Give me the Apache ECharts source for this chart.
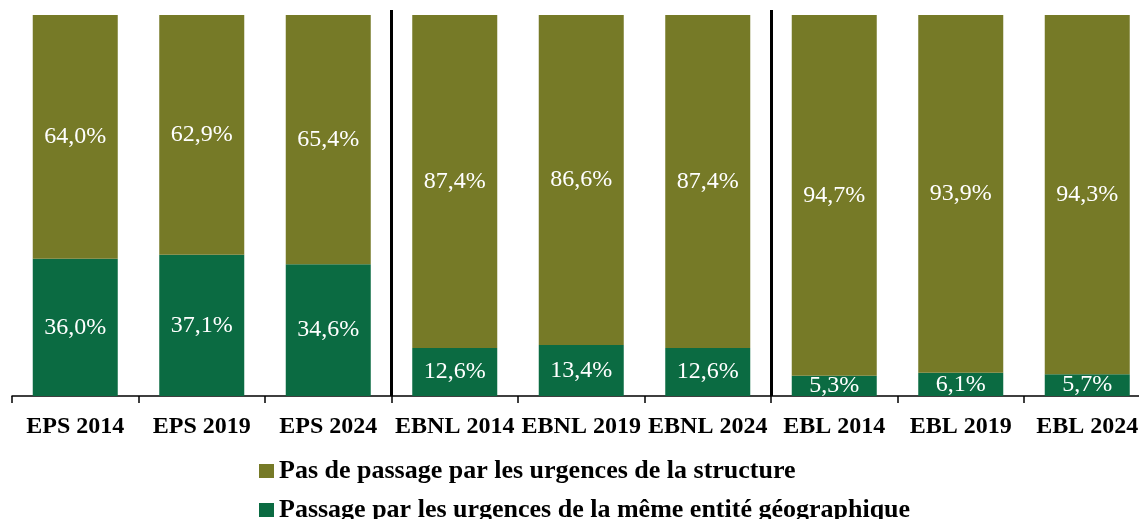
<!DOCTYPE html>
<html>
<head>
<meta charset="utf-8">
<script src="https://cdn.jsdelivr.net/npm/echarts@6/dist/echarts.min.js"></script>
<style>
    html, body { margin: 0; padding: 0; background: #fff; }
    #chart { width: 1139px; height: 519px; }
</style>
</head>
<body>
<div id="chart"></div>
<script>
var categories = ['EPS 2014', 'EPS 2019', 'EPS 2024', 'EBNL 2014', 'EBNL 2019', 'EBNL 2024', 'EBL 2014', 'EBL 2019', 'EBL 2024'];
var memeEntite = [36.0, 37.1, 34.6, 12.6, 13.4, 12.6, 5.3, 6.1, 5.7];
var pasPassage = [64.0, 62.9, 65.4, 87.4, 86.6, 87.4, 94.7, 93.9, 94.3];
var nomMeme = 'Passage par les urgences de la même entité géographique';
var nomPas = 'Pas de passage par les urgences de la structure';

var police = '"Liberation Serif", "DejaVu Serif", serif';

function pct(p) {
    return p.value.toFixed(1).replace('.', ',') + '%';
}

var myChart = echarts.init(document.getElementById('chart'));
var option = {
    animation: false,
    grid: {
        left: 12,
        top: 10,
        right: -11.5,
        height: 386,
        outerBoundsMode: 'none'
    },
    legend: {
        data: [nomPas, nomMeme],
        orient: 'vertical',
        left: 259,
        top: 458,
        height: 120,
        padding: 0,
        itemWidth: 15,
        itemHeight: 14,
        itemGap: 13,
        icon: 'rect',
        textStyle: {
            fontFamily: police,
            fontWeight: 'bold',
            fontSize: 26,
            lineHeight: 26,
            color: '#000'
        }
    },
    xAxis: {
        type: 'category',
        data: categories,
        axisLine: { lineStyle: { color: '#000', width: 1.5 } },
        axisTick: { show: true, length: 7, lineStyle: { color: '#000', width: 1.5 } },
        axisLabel: {
            margin: 19,
            fontFamily: police,
            fontWeight: 'bold',
            fontSize: 24,
            color: '#000',
            interval: 0
        },
        splitLine: {
            show: true,
            interval: function (index) {
                return index === 3 || index === 6;
            },
            lineStyle: { color: '#000', width: 3, type: 'solid' }
        }
    },
    yAxis: {
        type: 'value',
        min: 0,
        max: 101.31,
        show: false,
        splitLine: { show: false }
    },
    series: [
        {
            name: nomMeme,
            type: 'bar',
            stack: 'total',
            barWidth: 85,
            data: memeEntite,
            itemStyle: { color: '#0b6b42' },
            label: {
                show: true,
                position: 'inside',
                formatter: pct,
                fontFamily: police,
                fontSize: 24,
                color: '#fff'
            }
        },
        {
            name: nomPas,
            type: 'bar',
            stack: 'total',
            barWidth: 85,
            data: pasPassage,
            itemStyle: { color: '#767a27' },
            label: {
                show: true,
                position: 'inside',
                formatter: pct,
                fontFamily: police,
                fontSize: 24,
                color: '#fff'
            }
        }
    ]
};
myChart.setOption(option);
</script>
</body>
</html>
